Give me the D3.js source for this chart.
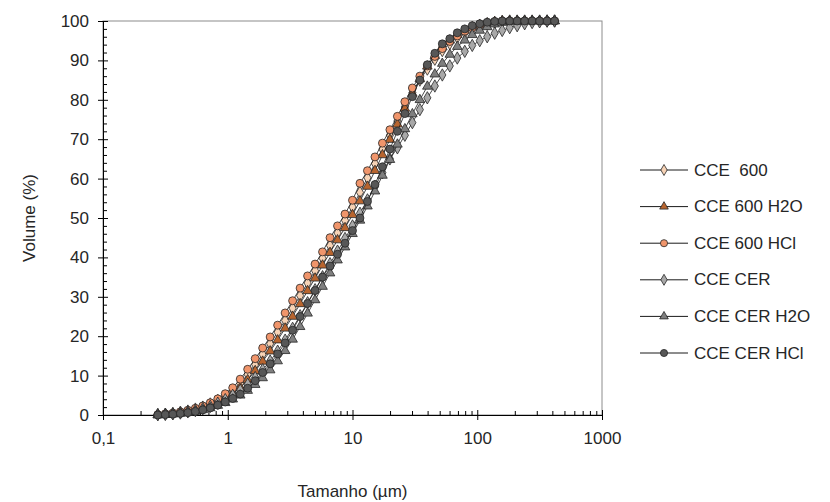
<!DOCTYPE html>
<html>
<head>
<meta charset="utf-8">
<script src="https://cdn.jsdelivr.net/npm/d3@7"></script>
<style>
  body { margin: 0; background: #fff; }
  svg { font-family: "Liberation Sans", Arial, sans-serif; }
</style>
</head>
<body>
<div id="chart"></div>
<script>
// particle size classes (um)
var sizes = [0.275, 0.316, 0.363, 0.417, 0.479, 0.550, 0.631, 0.724, 0.832, 0.955,
  1.096, 1.259, 1.445, 1.660, 1.905, 2.188, 2.512, 2.884, 3.311, 3.802,
  4.365, 5.012, 5.754, 6.607, 7.586, 8.710, 10.00, 11.48, 13.18, 15.14,
  17.38, 19.95, 22.91, 26.30, 30.20, 34.67, 39.81, 45.71, 52.48, 60.26,
  69.18, 79.43, 91.20, 104.7, 120.2, 138.0, 158.5, 182.0, 208.9, 239.9,
  275.4, 316.2, 363.1, 416.9];

// cumulative volume (%)
var cce600 = [0.1,0.2,0.4,0.7,1.0,1.5,2.0,2.8,3.7,4.8, 6.2,8.0,10.3,12.8,15.4, 18.1,21.0,24.0,27.1,30.3,
  33.5,36.6,39.8,43.0,46.2, 49.4,52.8,56.5,60.2,63.8, 67.5,71.0,74.6,78.2,81.8, 85.0,87.8,90.3,92.5,94.3,
  95.8,97.0,98.0,98.7,99.2, 99.6,99.9,100,100,100, 100,100,100,100];
var cce600H2O = [0,0.1,0.3,0.5,0.8,1.2,1.7,2.4,3.2,4.2, 5.4,7.0,8.9,11.2,13.6, 16.2,19.0,22.0,25.0,28.2,
  31.5,34.7,38.0,41.2,44.4, 47.5,50.8,54.3,58.0,62.0, 66.0,69.9,73.8,77.8,81.6, 85.3,88.5,91.2,93.4,95.1,
  96.5,97.6,98.5,99.1,99.5, 99.8,100,100,100,100, 100,100,100,100];
var cce600HCl = [0.1,0.3,0.5,0.8,1.2,1.7,2.3,3.1,4.1,5.4, 6.9,9.1,11.6,14.3,17.0, 19.8,22.8,25.9,29.0,32.2,
  35.3,38.3,41.4,45.0,48.0, 51.0,54.5,58.8,62.0,65.5, 69.0,72.4,75.8,79.5,83.0, 86.0,88.6,91.0,93.0,94.8,
  96.2,97.4,98.3,99.0,99.5, 99.8,100,100,100,100, 100,100,100,100];
var cceCER = [0.1,0.2,0.3,0.5,0.8,1.1,1.6,2.2,3.0,3.9, 5.0,6.3,7.8,9.5,11.5, 13.7,16.2,19.0,22.0,25.2,
  28.5,31.8,35.1,38.4,41.6, 44.8,48.0,51.2,54.6,58.0, 61.5,65.0,67.8,71.0,74.2, 77.5,80.5,83.5,86.3,88.6,
  90.6,92.3,93.8,95.0,96.0, 96.9,97.6,98.3,98.8,99.3, 99.6,99.8,100,100];
var cceCERH2O = [0,0.1,0.2,0.4,0.6,0.9,1.3,1.8,2.4,3.1, 4.0,5.0,6.2,7.7,9.4, 11.4,13.7,16.3,19.2,22.4,
  25.8,29.2,32.6,36.0,39.3, 42.6,46.0,49.4,53.0,56.8, 60.8,64.8,68.7,72.6,76.4, 80.0,83.4,86.5,89.2,91.5,
  93.5,95.1,96.5,97.6,98.5, 99.2,99.6,99.9,100,100, 100,100,100,100];
var cceCERHCl = [0,0.1,0.2,0.4,0.6,0.9,1.3,1.8,2.5,3.3, 4.2,5.3,6.8,8.7,10.8, 13.0,15.5,18.3,21.5,25.0,
  28.3,31.6,35.0,37.8,40.8, 43.6,46.8,50.0,54.2,58.5, 63.0,67.5,72.0,76.5,80.8, 85.0,88.9,91.8,94.2,95.5,
  97.0,98.0,98.8,99.3,99.7, 99.9,100,100,100,100, 100,100,100,100];

var seriesNames = ['CCE  600', 'CCE 600 H2O', 'CCE 600 HCl', 'CCE CER', 'CCE CER H2O', 'CCE CER HCl'];
var seriesValues = [cce600, cce600H2O, cce600HCl, cceCER, cceCERH2O, cceCERHCl];

var xMajor = [0.1, 1, 10, 100, 1000];
var xLabels = ['0,1', '1', '10', '100', '1000'];
var yMajor = [0, 10, 20, 30, 40, 50, 60, 70, 80, 90, 100];

// styling per series
var fills = ['#f7d3b6', '#b8652f', '#f0956b', '#a8a8a8', '#7f7f7f', '#575757'];
var shapes = [d3.symbolDiamond, d3.symbolTriangle, d3.symbolCircle,
              d3.symbolDiamond, d3.symbolTriangle, d3.symbolCircle];
var symSize = [44, 40, 50, 44, 40, 50];

var width = 830, height = 502;
var plot = {left: 103, right: 602, top: 21, bottom: 415};

var svg = d3.select('#chart').append('svg')
  .attr('width', width)
  .attr('height', height);

var x = d3.scaleLog().domain([0.1, 1000]).range([plot.left, plot.right]);
var y = d3.scaleLinear().domain([0, 100]).range([plot.bottom, plot.top]);

// plot area border
svg.append('rect')
  .attr('x', plot.left).attr('y', plot.top)
  .attr('width', plot.right - plot.left)
  .attr('height', plot.bottom - plot.top)
  .attr('fill', 'none')
  .attr('stroke', '#8c8c8c')
  .attr('stroke-width', 1);

// minor ticks
var xMinor = [];
xMajor.slice(0, -1).forEach(function(d) {
  for (var k = 2; k < 10; k++) xMinor.push(d * k);
});
var yMinor = d3.range(0, 101, 2).filter(function(v) { return v % 10 !== 0; });

var gx = svg.append('g').attr('transform', 'translate(0,' + plot.bottom + ')');
gx.call(d3.axisBottom(x).tickValues(xMinor).tickSize(-4).tickFormat(''));
gx.append('g').call(d3.axisBottom(x).tickValues(xMajor).tickSizeInner(5).tickSizeOuter(0)
  .tickPadding(12).tickFormat(function(d, i) { return xLabels[i]; }));
gx.selectAll('.tick line').attr('y1', function() {
  return +d3.select(this).attr('y2') > 0 ? -5 : null;
});
gx.selectAll('path.domain').attr('stroke', '#000');

var gy = svg.append('g').attr('transform', 'translate(' + plot.left + ',0)');
gy.call(d3.axisLeft(y).tickValues(yMinor).tickSize(-4).tickFormat(''));
gy.append('g').call(d3.axisLeft(y).tickValues(yMajor).tickSizeInner(5).tickSizeOuter(0).tickPadding(9));
gy.selectAll('.tick line').attr('x1', function() {
  return +d3.select(this).attr('x2') < 0 ? 5 : null;
});

svg.selectAll('.tick text')
  .attr('font-size', 17)
  .attr('fill', '#262626')
  .style('font-family', '"Liberation Sans", Arial, sans-serif');

// axis titles
svg.append('text')
  .attr('x', (plot.left + plot.right) / 2)
  .attr('y', 497)
  .attr('text-anchor', 'middle')
  .attr('font-size', 17)
  .attr('fill', '#262626')
  .text('Tamanho (µm)');

svg.append('text')
  .attr('transform', 'translate(29,' + ((plot.top + plot.bottom) / 2) + ') rotate(-90)')
  .attr('text-anchor', 'middle')
  .attr('dominant-baseline', 'central')
  .attr('font-size', 17)
  .attr('fill', '#262626')
  .text('Volume (%)');

// series
var line = d3.line()
  .x(function(d) { return x(d[0]); })
  .y(function(d) { return y(d[1]); });

seriesValues.forEach(function(vals, i) {
  var pts = sizes.map(function(s, j) { return [s, vals[j]]; });
  var g = svg.append('g');
  g.append('path')
    .datum(pts)
    .attr('d', line)
    .attr('fill', 'none')
    .attr('stroke', '#1a1a1a')
    .attr('stroke-width', 0.8);
  g.selectAll('path.pt')
    .data(pts)
    .enter().append('path')
    .attr('class', 'pt')
    .attr('d', d3.symbol().type(shapes[i]).size(symSize[i]))
    .attr('transform', function(d) { return 'translate(' + x(d[0]) + ',' + y(d[1]) + ')'; })
    .attr('fill', fills[i])
    .attr('stroke', '#262626')
    .attr('stroke-width', 0.8);
});

// legend
var legend = svg.append('g');
seriesNames.forEach(function(name, i) {
  var ly = 170 + i * 36.6;
  legend.append('line')
    .attr('x1', 640).attr('x2', 688)
    .attr('y1', ly).attr('y2', ly)
    .attr('stroke', '#1a1a1a')
    .attr('stroke-width', 1);
  legend.append('path')
    .attr('d', d3.symbol().type(shapes[i]).size(symSize[i] * 0.8))
    .attr('transform', 'translate(664,' + ly + ')')
    .attr('fill', fills[i])
    .attr('stroke', '#262626')
    .attr('stroke-width', 0.8);
  legend.append('text')
    .attr('x', 694)
    .attr('y', ly)
    .attr('dominant-baseline', 'central')
    .attr('font-size', 17)
    .attr('fill', '#262626')
    .style('white-space', 'pre')
    .text(name);
});
</script>
</body>
</html>
